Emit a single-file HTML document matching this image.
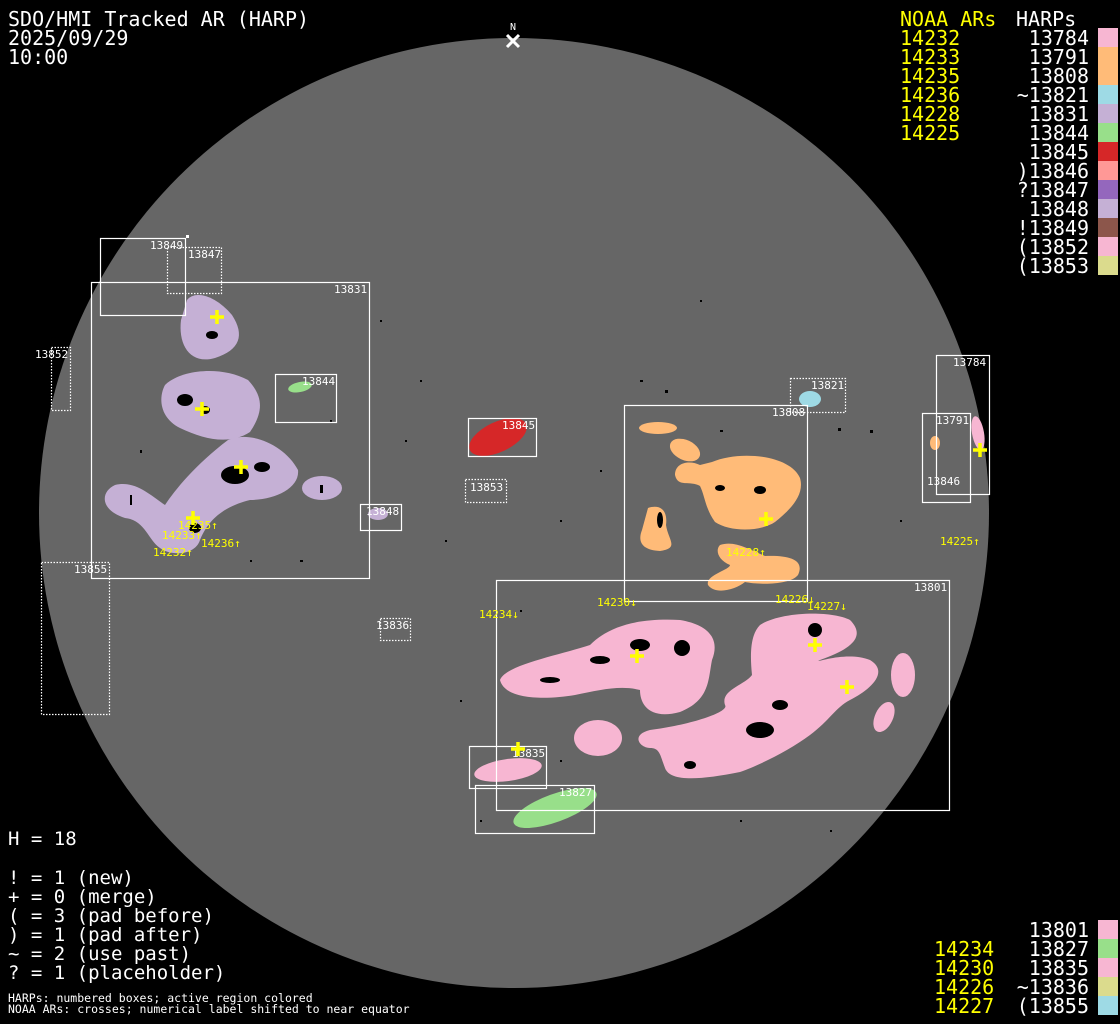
<!DOCTYPE html>
<html><head><meta charset="utf-8"><style>
html,body{margin:0;padding:0;background:#000;width:1120px;height:1024px;overflow:hidden}
svg{display:block}
text{font-family:"DejaVu Sans Mono","Liberation Mono",monospace}
.big{font-size:20px}
.w{fill:#fff}.y{fill:#ff0}
.lb{font-size:11px;fill:#fff}
.na{font-size:11px;fill:#ff0}
.bx{fill:none;stroke:#fff;stroke-width:1.2}
.dt{fill:none;stroke:#fff;stroke-width:1.2;stroke-dasharray:1.5 1.5}
.cr{stroke:#ff0;stroke-width:3.5}
</style></head><body>
<svg width="1120" height="1024" viewBox="0 0 1120 1024" xmlns="http://www.w3.org/2000/svg">
<rect width="1120" height="1024" fill="#000"/>
<circle cx="514" cy="513" r="475" fill="#666"/>

<g fill="#000">
<rect x="200" y="350" width="3" height="2"/><rect x="420" y="380" width="2" height="2"/><rect x="560" y="520" width="2" height="2"/>
<rect x="300" y="560" width="3" height="2"/><rect x="700" y="300" width="2" height="2"/><rect x="870" y="430" width="3" height="3"/>
<rect x="560" y="760" width="2" height="2"/><rect x="640" y="380" width="3" height="2"/><rect x="520" y="610" width="2" height="2"/>
<rect x="480" y="820" width="2" height="2"/><rect x="830" y="830" width="2" height="2"/><rect x="140" y="450" width="2" height="3"/>
<rect x="380" y="320" width="2" height="2"/><rect x="445" y="540" width="2" height="2"/><rect x="740" y="820" width="2" height="2"/>
<rect x="665" y="390" width="3" height="3"/><rect x="838" y="428" width="3" height="3"/><rect x="405" y="440" width="2" height="2"/>
<rect x="250" y="560" width="2" height="2"/><rect x="330" y="420" width="2" height="2"/><rect x="600" y="470" width="2" height="2"/>
<rect x="460" y="700" width="2" height="2"/><rect x="900" y="520" width="2" height="2"/><rect x="720" y="430" width="3" height="2"/>
</g>

<g fill="#c5b0d5">
<path d="M187,300 C195,290 215,295 232,315 C245,335 240,350 215,358 C190,365 178,345 181,320 Z"/>
<path d="M165,385 C180,370 220,365 248,380 C262,395 265,410 250,432 C230,445 205,440 180,428 C160,418 158,398 165,385 Z"/>
<path d="M228,440 C250,430 285,445 298,470 C300,488 275,500 250,500 C230,505 210,515 200,540 C195,556 170,556 160,548 C148,540 145,520 125,518 C100,510 100,492 115,485 C135,480 150,495 165,505 C175,490 195,465 228,440 Z"/>
<ellipse cx="322" cy="488" rx="20" ry="12"/>
<ellipse cx="378" cy="514" rx="10" ry="6"/>
</g>
<g fill="#000">
<ellipse cx="212" cy="335" rx="6" ry="4"/><ellipse cx="185" cy="400" rx="8" ry="6"/><ellipse cx="235" cy="475" rx="14" ry="9"/><ellipse cx="195" cy="528" rx="6" ry="5"/>
<ellipse cx="262" cy="467" rx="8" ry="5"/><ellipse cx="205" cy="410" rx="5" ry="4"/><rect x="320" y="485" width="3" height="8"/><rect x="130" y="495" width="2" height="10"/>
</g>
<ellipse cx="300" cy="387" rx="12" ry="5" fill="#98df8a" transform="rotate(-12 300 387)"/>
<ellipse cx="498" cy="437" rx="31" ry="15" fill="#d62728" transform="rotate(-25 498 437)"/>
<ellipse cx="810" cy="399" rx="11" ry="8" fill="#9edae5"/>
<g fill="#ffbb78">
<ellipse cx="658" cy="428" rx="19" ry="6"/>
<ellipse cx="685" cy="450" rx="16" ry="10" transform="rotate(25 685 450)"/>
<path d="M712,462 C740,450 790,455 800,478 C805,495 790,510 775,522 C760,532 730,532 715,522 C705,508 705,496 700,486 C690,480 678,488 675,475 C675,462 690,460 700,465 Z"/>
<path d="M648,508 C660,504 668,510 666,525 C668,540 680,548 660,551 C640,550 638,540 642,530 Z"/>
<path d="M720,545 C735,540 750,550 765,556 C790,555 805,560 798,575 C790,585 760,585 745,582 C735,590 715,595 708,585 C705,575 730,570 730,565 C718,560 715,550 720,545 Z"/>
<ellipse cx="935" cy="443" rx="5" ry="7"/>
</g>
<ellipse cx="978" cy="433" rx="6" ry="17" fill="#f7b6d2" transform="rotate(-10 978 433)"/>
<g fill="#f7b6d2">
<path d="M500,680 C505,665 560,655 590,645 C610,625 640,618 680,620 C710,625 720,640 712,660 C708,680 710,700 680,712 C650,720 640,705 640,690 C620,685 600,690 575,695 C545,700 505,700 500,680 Z"/>
<path d="M760,625 C780,612 830,610 850,620 C865,635 855,648 820,660 C810,665 845,650 870,660 C890,672 870,690 850,700 C835,708 830,720 810,735 C790,750 760,765 740,772 C700,780 670,782 665,768 C660,755 660,748 650,748 C640,748 630,735 650,730 C690,725 730,712 725,705 C720,690 745,685 752,675 C750,655 750,635 760,625 Z"/>
<ellipse cx="598" cy="738" rx="24" ry="18"/>
<ellipse cx="903" cy="675" rx="12" ry="22"/>
<ellipse cx="884" cy="717" rx="9" ry="16" transform="rotate(25 884 717)"/>
<ellipse cx="508" cy="770" rx="34" ry="11" transform="rotate(-8 508 770)"/>
</g>
<g fill="#000">
<circle cx="682" cy="648" r="8"/><circle cx="815" cy="630" r="7"/><ellipse cx="640" cy="645" rx="10" ry="6"/><ellipse cx="600" cy="660" rx="10" ry="4"/>
<ellipse cx="760" cy="730" rx="14" ry="8"/><ellipse cx="780" cy="705" rx="8" ry="5"/><ellipse cx="690" cy="765" rx="6" ry="4"/><ellipse cx="550" cy="680" rx="10" ry="3"/>
<ellipse cx="760" cy="490" rx="6" ry="4"/><ellipse cx="720" cy="488" rx="5" ry="3"/><ellipse cx="660" cy="520" rx="3" ry="8"/>
</g>
<ellipse cx="555" cy="808" rx="44" ry="14" fill="#98df8a" transform="rotate(-20 555 808)"/>

<rect class="bx" x="100.5" y="238.5" width="85" height="77"/>
<rect x="186" y="235" width="3" height="3" fill="#fff"/>
<rect class="dt" x="167.5" y="247.5" width="54" height="46"/>
<rect class="bx" x="91.5" y="282.5" width="278" height="296"/>
<rect class="dt" x="51.5" y="347.5" width="19" height="63"/>
<rect class="bx" x="275.5" y="374.5" width="61" height="48"/>
<rect class="bx" x="360.5" y="504.5" width="41" height="26"/>
<rect class="dt" x="41.5" y="562.5" width="68" height="152"/>
<rect class="bx" x="468.5" y="418.5" width="68" height="38"/>
<rect class="dt" x="465.5" y="479.5" width="41" height="23"/>
<rect class="dt" x="380.5" y="618.5" width="30" height="22"/>
<rect class="dt" x="790.5" y="378.5" width="55" height="34"/>
<rect class="bx" x="624.5" y="405.5" width="183" height="196"/>
<rect class="bx" x="936.5" y="355.5" width="53" height="139"/>
<rect class="bx" x="922.5" y="413.5" width="48" height="89"/>
<rect class="bx" x="496.5" y="580.5" width="453" height="230"/>
<rect class="bx" x="469.5" y="746.5" width="77" height="42"/>
<rect class="bx" x="475.5" y="785.5" width="119" height="48"/>

<text class="lb" x="150" y="249">13849</text>
<text class="lb" x="188" y="258">13847</text>
<text class="lb" x="334" y="293">13831</text>
<text class="lb" x="35" y="358">13852</text>
<text class="lb" x="302" y="385">13844</text>
<text class="lb" x="366" y="515">13848</text>
<text class="lb" x="74" y="573">13855</text>
<text class="lb" x="502" y="429">13845</text>
<text class="lb" x="470" y="491">13853</text>
<text class="lb" x="376" y="629">13836</text>
<text class="lb" x="811" y="389">13821</text>
<text class="lb" x="772" y="416">13808</text>
<text class="lb" x="953" y="366">13784</text>
<text class="lb" x="936" y="424">13791</text>
<text class="lb" x="927" y="485">13846</text>
<text class="lb" x="914" y="591">13801</text>
<text class="lb" x="512" y="757">13835</text>
<text class="lb" x="559" y="796">13827</text>

<text class="na" x="178" y="529">14235↑</text>
<text class="na" x="162" y="539">14233↑</text>
<text class="na" x="201" y="547">14236↑</text>
<text class="na" x="153" y="556">14232↑</text>
<text class="na" x="726" y="556">14228↑</text>
<text class="na" x="940" y="545">14225↑</text>
<text class="na" x="479" y="618">14234↓</text>
<text class="na" x="597" y="606">14230↓</text>
<text class="na" x="775" y="603">14226↓</text>
<text class="na" x="807" y="610">14227↓</text>

<g class="cr">
<path d="M217,310v14M210,317h14"/><path d="M202,402v14M195,409h14"/><path d="M241,460v14M234,467h14"/>
<path d="M193,511v14M186,518h14"/><path d="M766,512v14M759,519h14"/><path d="M980,443v14M973,450h14"/>
<path d="M637,649v14M630,656h14"/><path d="M815,638v14M808,645h14"/><path d="M847,680v14M840,687h14"/>
<path d="M518,742v14M511,749h14"/>
</g>
<text x="513" y="30" font-size="10" fill="#fff" text-anchor="middle">N</text>
<path d="M507,35l12,12M519,35l-12,12" stroke="#fff" stroke-width="3"/>

<text class="big w" x="8" y="26">SDO/HMI Tracked AR (HARP)</text>
<text class="big w" x="8" y="45">2025/09/29</text>
<text class="big w" x="8" y="64">10:00</text>

<text class="big y" x="900" y="26">NOAA ARs</text>
<text class="big w" x="1016" y="26">HARPs</text>
<g class="big y">
<text x="900" y="45">14232</text><text x="900" y="64">14233</text><text x="900" y="83">14235</text>
<text x="900" y="102">14236</text><text x="900" y="121">14228</text><text x="900" y="140">14225</text>
</g>
<g class="big w" text-anchor="end">
<text x="1089" y="45">13784</text><text x="1089" y="64">13791</text><text x="1089" y="83">13808</text>
<text x="1089" y="102">~13821</text><text x="1089" y="121">13831</text><text x="1089" y="140">13844</text>
<text x="1089" y="159">13845</text><text x="1089" y="178">)13846</text><text x="1089" y="197">?13847</text>
<text x="1089" y="216">13848</text><text x="1089" y="235">!13849</text><text x="1089" y="254">(13852</text>
<text x="1089" y="273">(13853</text>
</g>
<g>
<rect x="1098" y="28" width="20" height="19" fill="#f7b6d2"/>
<rect x="1098" y="47" width="20" height="38" fill="#ffbb78"/>
<rect x="1098" y="85" width="20" height="19" fill="#9edae5"/>
<rect x="1098" y="104" width="20" height="19" fill="#c5b0d5"/>
<rect x="1098" y="123" width="20" height="19" fill="#98df8a"/>
<rect x="1098" y="142" width="20" height="19" fill="#d62728"/>
<rect x="1098" y="161" width="20" height="19" fill="#ff9896"/>
<rect x="1098" y="180" width="20" height="19" fill="#9467bd"/>
<rect x="1098" y="199" width="20" height="19" fill="#c5b0d5"/>
<rect x="1098" y="218" width="20" height="19" fill="#8c564b"/>
<rect x="1098" y="237" width="20" height="19" fill="#f7b6d2"/>
<rect x="1098" y="256" width="20" height="19" fill="#dbdb8d"/>
</g>

<g class="big y">
<text x="934" y="956">14234</text><text x="934" y="975">14230</text><text x="934" y="994">14226</text><text x="934" y="1013">14227</text>
</g>
<g class="big w" text-anchor="end">
<text x="1089" y="937">13801</text><text x="1089" y="956">13827</text><text x="1089" y="975">13835</text>
<text x="1089" y="994">~13836</text><text x="1089" y="1013">(13855</text>
</g>
<rect x="1098" y="920" width="20" height="19" fill="#f7b6d2"/>
<rect x="1098" y="939" width="20" height="19" fill="#98df8a"/>
<rect x="1098" y="958" width="20" height="19" fill="#f7b6d2"/>
<rect x="1098" y="977" width="20" height="19" fill="#dbdb8d"/>
<rect x="1098" y="996" width="20" height="19" fill="#9edae5"/>

<g fill="#fff" font-size="19">
<text x="8" y="845">H = 18</text>
<text x="8" y="884">! = 1 (new)</text>
<text x="8" y="903">+ = 0 (merge)</text>
<text x="8" y="922">( = 3 (pad before)</text>
<text x="8" y="941">) = 1 (pad after)</text>
<text x="8" y="960">~ = 2 (use past)</text>
<text x="8" y="979">? = 1 (placeholder)</text>
</g>
<text x="8" y="1002" font-size="11.5" fill="#fff">HARPs: numbered boxes; active region colored</text>
<text x="8" y="1013" font-size="11.5" fill="#fff">NOAA ARs: crosses; numerical label shifted to near equator</text>
</svg>
</body></html>
